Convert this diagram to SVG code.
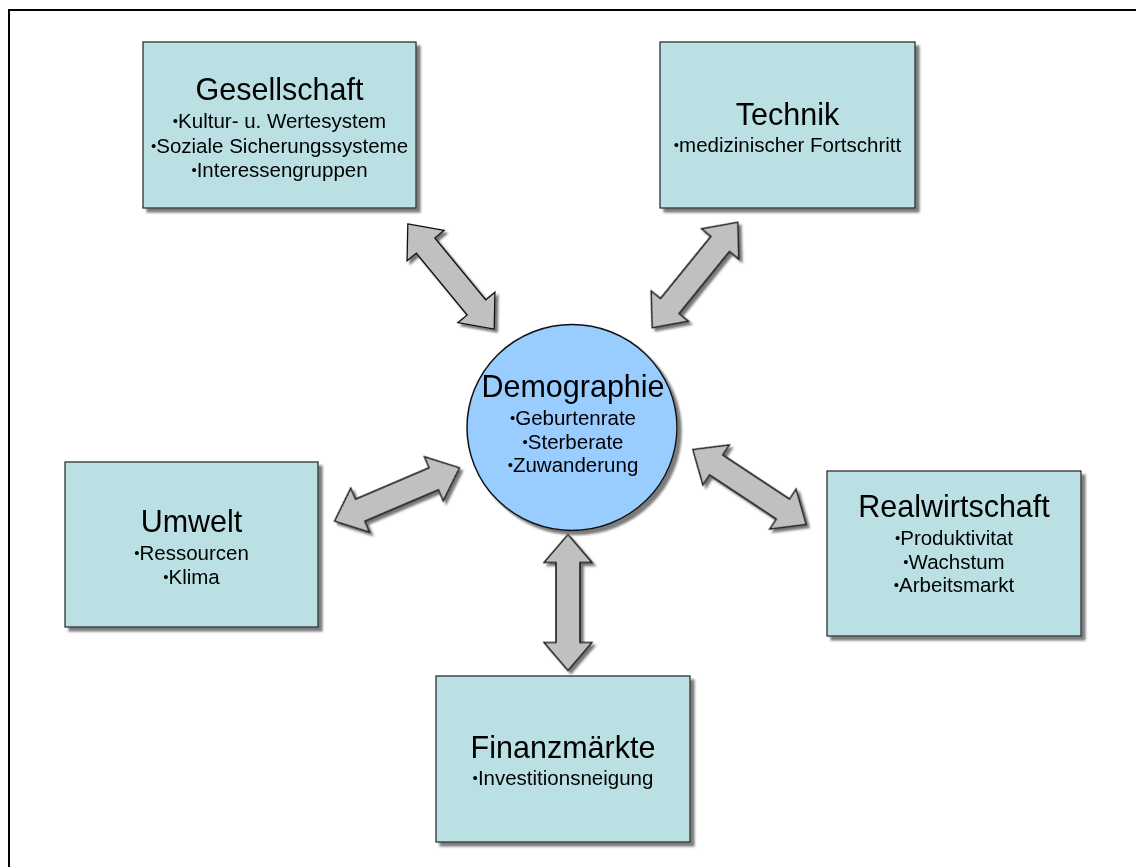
<svg xmlns="http://www.w3.org/2000/svg" width="1136" height="867" viewBox="0 0 1136 867">
  <style>
    .box { fill: #bbe0e3; stroke: #222; stroke-width: 1.2; }
    .hub { fill: #99ccff; stroke: #111; stroke-width: 1.5; }
    .arrow { fill: #c0c0c0; stroke: #111; stroke-width: 1.3; stroke-linejoin: miter; }
    .title { font-family: "Liberation Sans", Arial, sans-serif; font-size: 30.5px; fill: #000; text-anchor: middle; }
    .item { font-family: "Liberation Sans", Arial, sans-serif; font-size: 20.5px; fill: #000; text-anchor: middle; }
    .dot { font-size: 15px; }
  </style>
  <defs>
    <filter id="boxShadow" x="-10%" y="-10%" width="120%" height="120%">
      <feDropShadow dx="4" dy="4" stdDeviation="0.8" flood-color="#6e6e6e" flood-opacity="0.9"/>
    </filter>
    <filter id="arrowShadow" x="-20%" y="-20%" width="140%" height="140%">
      <feDropShadow dx="3" dy="3" stdDeviation="1" flood-color="#555" flood-opacity="0.8"/>
    </filter>
    <!-- double-headed block arrow, centred on the origin, pointing along x -->
    <polygon id="dbl" points="-68,0 -40,-24 -40,-12 40,-12 40,-24 68,0 40,24 40,12 -40,12 -40,24"/>
  </defs>

  <rect width="1136" height="867" fill="#ffffff"/>
  <!-- outer frame (top and left edges) -->
  <path d="M9,867 V10 H1136" fill="none" stroke="#000" stroke-width="2"/>

  <g id="connectors" filter="url(#arrowShadow)">
    <use href="#dbl" class="arrow" transform="translate(451,276.5) rotate(50.56)"/>
    <use href="#dbl" class="arrow" transform="translate(695,275) rotate(129.05)"/>
    <use href="#dbl" class="arrow" transform="translate(397,494.5) rotate(-23.1)"/>
    <use href="#dbl" class="arrow" transform="translate(749.5,487) rotate(33.46)"/>
    <use href="#dbl" class="arrow" transform="translate(568,602.5) rotate(90)"/>
  </g>

  <g id="demographie">
    <ellipse class="hub" cx="572" cy="427.5" rx="105" ry="103" filter="url(#boxShadow)"/>
    <text class="title" x="573" y="397">Demographie</text>
    <text class="item" x="573" y="425"><tspan class="dot" dy="-2">•</tspan><tspan dy="2">Geburtenrate</tspan></text>
    <text class="item" x="573" y="448.5"><tspan class="dot" dy="-2">•</tspan><tspan dy="2">Sterberate</tspan></text>
    <text class="item" x="573" y="472"><tspan class="dot" dy="-2">•</tspan><tspan dy="2">Zuwanderung</tspan></text>
  </g>

  <g id="gesellschaft">
    <rect class="box" x="143" y="42" width="273" height="166" filter="url(#boxShadow)"/>
    <text class="title" x="279.5" y="100">Gesellschaft</text>
    <text class="item" x="279.5" y="128"><tspan class="dot" dy="-2">•</tspan><tspan dy="2">Kultur- u. Wertesystem</tspan></text>
    <text class="item" x="279.5" y="152.5"><tspan class="dot" dy="-2">•</tspan><tspan dy="2">Soziale Sicherungssysteme</tspan></text>
    <text class="item" x="279.5" y="177"><tspan class="dot" dy="-2">•</tspan><tspan dy="2">Interessengruppen</tspan></text>
  </g>

  <g id="technik">
    <rect class="box" x="660" y="42" width="255" height="166" filter="url(#boxShadow)"/>
    <text class="title" x="787.5" y="125">Technik</text>
    <text class="item" x="787.5" y="152"><tspan class="dot" dy="-2">•</tspan><tspan dy="2">medizinischer Fortschritt</tspan></text>
  </g>

  <g id="umwelt">
    <rect class="box" x="65" y="462" width="253" height="165" filter="url(#boxShadow)"/>
    <text class="title" x="191.5" y="532">Umwelt</text>
    <text class="item" x="191.5" y="560"><tspan class="dot" dy="-2">•</tspan><tspan dy="2">Ressourcen</tspan></text>
    <text class="item" x="191.5" y="583.5"><tspan class="dot" dy="-2">•</tspan><tspan dy="2">Klima</tspan></text>
  </g>

  <g id="realwirtschaft">
    <rect class="box" x="827" y="471" width="254" height="165" filter="url(#boxShadow)"/>
    <text class="title" x="954" y="517">Realwirtschaft</text>
    <text class="item" x="954" y="545"><tspan class="dot" dy="-2">•</tspan><tspan dy="2">Produktivitat</tspan></text>
    <text class="item" x="954" y="568.5"><tspan class="dot" dy="-2">•</tspan><tspan dy="2">Wachstum</tspan></text>
    <text class="item" x="954" y="592"><tspan class="dot" dy="-2">•</tspan><tspan dy="2">Arbeitsmarkt</tspan></text>
  </g>

  <g id="finanzmaerkte">
    <rect class="box" x="436" y="676" width="254" height="166" filter="url(#boxShadow)"/>
    <text class="title" x="563" y="758">Finanzmärkte</text>
    <text class="item" x="563" y="785"><tspan class="dot" dy="-2">•</tspan><tspan dy="2">Investitionsneigung</tspan></text>
  </g>
</svg>
